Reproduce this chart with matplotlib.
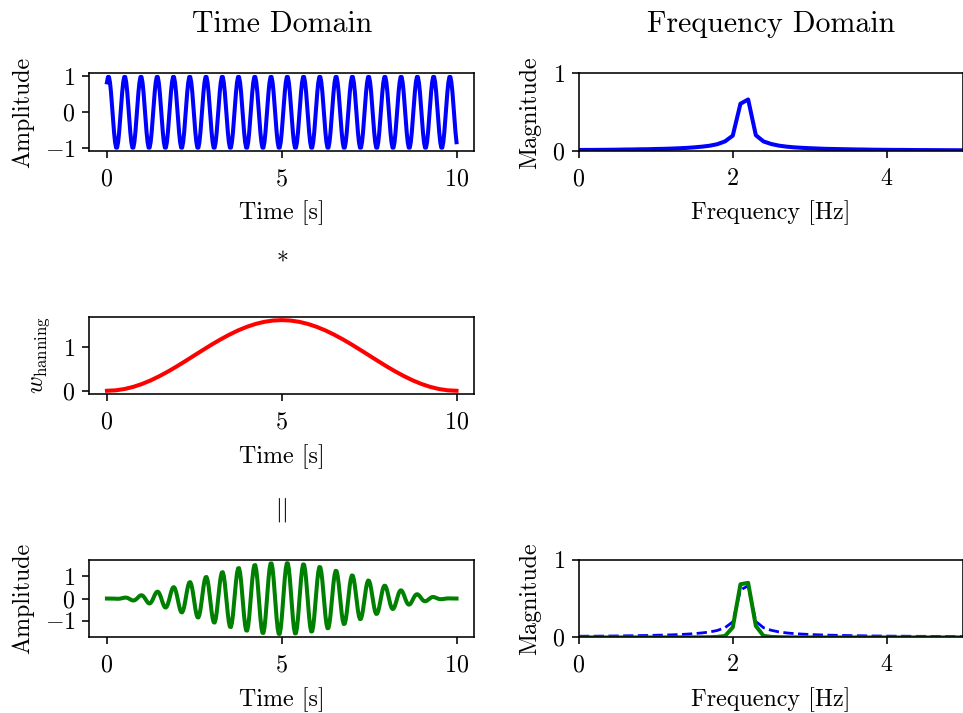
import numpy as np
import matplotlib
matplotlib.use("Agg")
import matplotlib.pyplot as plt

# ---------------- data ----------------
t_start, t_end = 0.0, 10.0

signal = [
 0.831, 0.981, 0.981, 0.831, 0.556, 0.195, -0.195, -0.556, -0.831, -0.981, -0.981, -0.831, -0.556, -0.195, 0.195, 0.556,
 0.831, 0.981, 0.981, 0.831, 0.556, 0.195, -0.195, -0.556, -0.831, -0.981, -0.981, -0.831, -0.556, -0.195, 0.195, 0.556,
 0.831, 0.981, 0.981, 0.831, 0.556, 0.195, -0.195, -0.556, -0.831, -0.981, -0.981, -0.831, -0.556, -0.195, 0.195, 0.556,
 0.831, 0.981, 0.981, 0.831, 0.556, 0.195, -0.195, -0.556, -0.831, -0.981, -0.981, -0.831, -0.556, -0.195, 0.195, 0.556,
 0.831, 0.981, 0.981, 0.831, 0.556, 0.195, -0.195, -0.556, -0.831, -0.981, -0.981, -0.831, -0.556, -0.195, 0.195, 0.556,
 0.831, 0.981, 0.981, 0.831, 0.556, 0.195, -0.195, -0.556, -0.831, -0.981, -0.981, -0.831, -0.556, -0.195, 0.195, 0.556,
 0.831, 0.981, 0.981, 0.831, 0.556, 0.195, -0.195, -0.556, -0.831, -0.981, -0.981, -0.831, -0.556, -0.195, 0.195, 0.556,
 0.831, 0.981, 0.981, 0.831, 0.556, 0.195, -0.195, -0.556, -0.831, -0.981, -0.981, -0.831, -0.556, -0.195, 0.195, 0.556,
 0.831, 0.981, 0.981, 0.831, 0.556, 0.195, -0.195, -0.556, -0.831, -0.981, -0.981, -0.831, -0.556, -0.195, 0.195, 0.556,
 0.831, 0.981, 0.981, 0.831, 0.556, 0.195, -0.195, -0.556, -0.831, -0.981, -0.981, -0.831, -0.556, -0.195, 0.195, 0.556,
 0.831, 0.981, 0.981, 0.831, 0.556, 0.195, -0.195, -0.556, -0.831, -0.981, -0.981, -0.831, -0.556, -0.195, 0.195, 0.556,
 0.831, 0.981, 0.981, 0.831, 0.556, 0.195, -0.195, -0.556, -0.831, -0.981, -0.981, -0.831, -0.556, -0.195, 0.195, 0.556,
 0.831, 0.981, 0.981, 0.831, 0.556, 0.195, -0.195, -0.556, -0.831, -0.981, -0.981, -0.831, -0.556, -0.195, 0.195, 0.556,
 0.831, 0.981, 0.981, 0.831, 0.556, 0.195, -0.195, -0.556, -0.831, -0.981, -0.981, -0.831, -0.556, -0.195, 0.195, 0.556,
 0.831, 0.981, 0.981, 0.831, 0.556, 0.195, -0.195, -0.556, -0.831, -0.981, -0.981, -0.831, -0.556, -0.195, 0.195, 0.556,
 0.831, 0.981, 0.981, 0.831, 0.556, 0.195, -0.195, -0.556, -0.831, -0.981, -0.981, -0.831, -0.556, -0.195, 0.195, 0.556,
 0.831, 0.981, 0.981, 0.831, 0.556, 0.195, -0.195, -0.556, -0.831, -0.981, -0.981, -0.831, -0.556, -0.195, 0.195, 0.556,
 0.831, 0.981, 0.981, 0.831, 0.556, 0.195, -0.195, -0.556, -0.831, -0.981, -0.981, -0.831, -0.556, -0.195, 0.195, 0.556,
 0.831, 0.981, 0.981, 0.831, 0.556, 0.195, -0.195, -0.556, -0.831, -0.981, -0.981, -0.831, -0.556, -0.195, 0.195, 0.556,
 0.831, 0.981, 0.981, 0.831, 0.556, 0.195, -0.195, -0.556, -0.831, -0.981, -0.981, -0.831, -0.556, -0.195, 0.195, 0.556,
 0.831, 0.981, 0.981, 0.831, 0.556, 0.195, -0.195, -0.556, -0.831, -0.981, -0.981, -0.831, -0.556, -0.195, 0.195, 0.556,
 0.831, 0.981, 0.981, 0.831, 0.556, 0.195, -0.195, -0.556, -0.831,
]

window = [
 0.0, 0.010, 0.040, 0.089, 0.156, 0.239, 0.337, 0.446, 0.564, 0.689, 0.817,
 0.944, 1.069, 1.187, 1.296, 1.394, 1.477, 1.544, 1.593, 1.623, 1.633,
 1.623, 1.593, 1.544, 1.477, 1.394, 1.296, 1.187, 1.069, 0.944, 0.817,
 0.689, 0.564, 0.446, 0.337, 0.239, 0.156, 0.089, 0.040, 0.010, 0.0,
]

windowed = [
 0.0, 0.0, 0.0, 0.001, 0.001, 0.001, -0.001, -0.004, -0.007, -0.011, -0.013, -0.014, -0.011, -0.004, 0.005, 0.017,
 0.029, 0.038, 0.043, 0.040, 0.030, 0.012, -0.013, -0.039, -0.064, -0.082, -0.089, -0.081, -0.058, -0.022, 0.023, 0.071,
 0.113, 0.141, 0.150, 0.134, 0.095, 0.035, -0.037, -0.110, -0.173, -0.214, -0.224, -0.199, -0.139, -0.051, 0.053, 0.157,
 0.245, 0.300, 0.312, 0.274, 0.190, 0.069, -0.071, -0.210, -0.325, -0.396, -0.409, -0.357, -0.246, -0.089, 0.092, 0.269,
 0.413, 0.501, 0.515, 0.448, 0.307, 0.111, -0.113, -0.331, -0.507, -0.612, -0.627, -0.543, -0.372, -0.133, 0.136, 0.396,
 0.604, 0.728, 0.742, 0.641, 0.437, 0.156, -0.159, -0.462, -0.703, -0.845, -0.860, -0.741, -0.504, -0.180, 0.183, 0.528,
 0.802, 0.961, 0.976, 0.839, 0.569, 0.202, -0.205, -0.593, -0.898, -1.074, -1.088, -0.933, -0.632, -0.224, 0.227, 0.654,
 0.989, 1.180, 1.193, 1.021, 0.690, 0.245, -0.247, -0.711, -1.073, -1.279, -1.291, -1.103, -0.745, -0.263, 0.266, 0.763,
 1.150, 1.367, 1.378, 1.176, 0.792, 0.280, -0.282, -0.808, -1.216, -1.444, -1.453, -1.238, -0.833, -0.294, 0.295, 0.846,
 1.270, 1.507, 1.514, 1.288, 0.865, 0.305, -0.306, -0.875, -1.312, -1.554, -1.559, -1.325, -0.889, -0.313, 0.313, 0.895,
 1.341, 1.586, 1.589, 1.348, 0.903, 0.317, -0.318, -0.906, -1.355, -1.601, -1.602, -1.357, -0.908, -0.318, 0.318, 0.907,
 1.355, 1.599, 1.597, 1.352, 0.903, 0.316, -0.316, -0.899, -1.341, -1.579, -1.576, -1.332, -0.889, -0.311, 0.310, 0.881,
 1.312, 1.544, 1.538, 1.299, 0.865, 0.302, -0.301, -0.854, -1.270, -1.493, -1.485, -1.252, -0.833, -0.290, 0.289, 0.818,
 1.216, 1.426, 1.417, 1.192, 0.792, 0.276, -0.274, -0.775, -1.150, -1.346, -1.336, -1.122, -0.745, -0.259, 0.257, 0.725,
 1.073, 1.255, 1.243, 1.042, 0.690, 0.240, -0.237, -0.669, -0.989, -1.154, -1.141, -0.956, -0.632, -0.219, 0.216, 0.609,
 0.898, 1.046, 1.032, 0.862, 0.569, 0.197, -0.194, -0.545, -0.802, -0.932, -0.918, -0.765, -0.504, -0.174, 0.171, 0.479,
 0.703, 0.816, 0.801, 0.666, 0.437, 0.150, -0.148, -0.413, -0.604, -0.699, -0.684, -0.567, -0.372, -0.127, 0.125, 0.347,
 0.507, 0.584, 0.570, 0.471, 0.307, 0.105, -0.102, -0.284, -0.413, -0.474, -0.461, -0.379, -0.246, -0.084, 0.081, 0.225,
 0.325, 0.371, 0.359, 0.294, 0.190, 0.064, -0.062, -0.170, -0.245, -0.277, -0.266, -0.217, -0.139, -0.047, 0.045, 0.121,
 0.173, 0.195, 0.185, 0.149, 0.095, 0.031, -0.030, -0.080, -0.113, -0.125, -0.117, -0.093, -0.058, -0.019, 0.018, 0.047,
 0.064, 0.070, 0.064, 0.049, 0.030, 0.010, -0.009, -0.022, -0.029, -0.030, -0.026, -0.019, -0.011, -0.003, 0.003, 0.006,
 0.007, 0.007, 0.005, 0.003, 0.001, 0.0, 0.0, 0.0, 0.0,
]

freq_hz = [
 0.0, 0.1, 0.2, 0.3, 0.4, 0.5, 0.6, 0.7, 0.8, 0.9,
 1.0, 1.1, 1.2, 1.3, 1.4, 1.5, 1.6, 1.7, 1.8, 1.9,
 2.0, 2.1, 2.2, 2.3, 2.4, 2.5, 2.6, 2.7, 2.8, 2.9,
 3.0, 3.1, 3.2, 3.3, 3.4, 3.5, 3.6, 3.7, 3.8, 3.9,
 4.0, 4.1, 4.2, 4.3, 4.4, 4.5, 4.6, 4.7, 4.8, 4.9, 5.0,
]

mag_signal = [
 0.015, 0.016, 0.016, 0.017, 0.018, 0.019, 0.021, 0.022, 0.024, 0.025,
 0.028, 0.030, 0.033, 0.037, 0.042, 0.049, 0.058, 0.070, 0.090, 0.126,
 0.200, 0.610, 0.665, 0.205, 0.125, 0.092, 0.071, 0.058, 0.049, 0.043,
 0.038, 0.034, 0.030, 0.028, 0.026, 0.024, 0.022, 0.021, 0.019, 0.018,
 0.017, 0.016, 0.016, 0.015, 0.014, 0.014, 0.013, 0.013, 0.012, 0.012, 0.011,
]

mag_windowed = [
 0.0, 0.0, 0.0, 0.0, 0.0, 0.0, 0.0, 0.0, 0.0, 0.0,
 0.0, 0.0, 0.0, 0.001, 0.001, 0.001, 0.002, 0.003, 0.007, 0.019,
 0.130, 0.684, 0.702, 0.148, 0.020, 0.007, 0.003, 0.002, 0.001, 0.001,
 0.0, 0.0, 0.0, 0.0, 0.0, 0.0, 0.0, 0.0, 0.0, 0.0,
 0.0, 0.0, 0.0, 0.0, 0.0, 0.0, 0.0, 0.0, 0.0, 0.0, 0.0,
]

col_titles = ["Time Domain", "Frequency Domain"]

# ---------------- style ----------------
plt.rcParams.update({
    "font.family": "serif",
    "font.serif": ["cmr10"],
    "mathtext.fontset": "cm",
    "axes.formatter.use_mathtext": True,
    "axes.unicode_minus": True,
    "font.size": 17.3,
    "axes.linewidth": 1.15,
    "xtick.major.width": 1.15,
    "ytick.major.width": 1.15,
    "xtick.major.size": 5.2,
    "ytick.major.size": 5.2,
    "xtick.major.pad": 7.0,
    "ytick.major.pad": 5.0,
    "axes.labelpad": 7.5,
})

time_sig = np.linspace(t_start, t_end, len(signal))
time_win = np.linspace(t_start, t_end, len(window))
time_wsig = np.linspace(t_start, t_end, len(windowed))

fig = plt.figure(figsize=(9.63, 7.13), dpi=100)

left_x, right_x, width, height = 0.0929, 0.6012, 0.3993, 0.109
row_bottoms = [0.788, 0.447, 0.106]

ax_t0 = fig.add_axes([left_x, row_bottoms[0], width, height])
ax_f0 = fig.add_axes([right_x, row_bottoms[0], width, height])
ax_w = fig.add_axes([left_x, row_bottoms[1], width, height])
ax_t2 = fig.add_axes([left_x, row_bottoms[2], width, height])
ax_f2 = fig.add_axes([right_x, row_bottoms[2], width, height])

lw = 2.9
ax_t0.plot(time_sig, signal, color="b", lw=lw)
ax_t0.set_ylabel("Amplitude")
ax_t0.set_xlabel("Time [s]")
ax_t0.set_yticks([-1, 0, 1])
ax_t0.set_xticks([0, 5, 10])
ax_t0.set_title(col_titles[0], fontsize=21.5, pad=30)

ax_f0.plot(freq_hz, mag_signal, color="b", lw=lw)
ax_f0.set_xlim(0, 5)
ax_f0.set_ylim(0, 1)
ax_f0.set_yticks([0, 1])
ax_f0.set_xticks([0, 2, 4])
ax_f0.set_ylabel("Magnitude")
ax_f0.set_xlabel("Frequency [Hz]")
ax_f0.set_title(col_titles[1], fontsize=21.5, pad=30)

ax_w.plot(time_win, window, color="r", lw=lw)
ax_w.set_ylabel(r"$w_{\mathrm{hanning}}$")
ax_w.set_xlabel("Time [s]")
ax_w.set_yticks([0, 1])
ax_w.set_xticks([0, 5, 10])

ax_t2.plot(time_wsig, windowed, color="g", lw=lw)
ax_t2.set_ylabel("Amplitude")
ax_t2.set_xlabel("Time [s]")
ax_t2.set_yticks([-1, 0, 1])
ax_t2.set_xticks([0, 5, 10])

ax_f2.plot(freq_hz, mag_signal, color="b", lw=2.0, ls="--")
ax_f2.plot(freq_hz, mag_windowed, color="g", lw=lw)
ax_f2.set_xlim(0, 5)
ax_f2.set_ylim(0, 1)
ax_f2.set_yticks([0, 1])
ax_f2.set_xticks([0, 2, 4])
ax_f2.set_ylabel("Magnitude")
ax_f2.set_xlabel("Frequency [Hz]")

center_x = left_x + width / 2
fig.text(center_x, 0.642, r"$*$", ha="center", va="center", fontsize=17.3)
fig.text(center_x, 0.2847, r"$||$", ha="center", va="center", fontsize=17.3)

fig.savefig("out.png", dpi=100)
